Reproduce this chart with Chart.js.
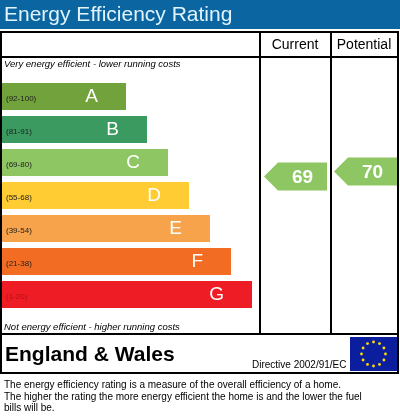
<!DOCTYPE html>
<html>
<head>
<meta charset="utf-8">
<script src="https://cdn.jsdelivr.net/npm/chart.js@4"></script>
<style>
  html, body { margin: 0; padding: 0; background: #fff; }
  #wrap { width: 400px; height: 419px; position: relative; }
</style>
</head>
<body>
<div id="wrap"><canvas id="epc" width="400" height="419"></canvas></div>
<script>
const bands = ['A', 'B', 'C', 'D', 'E', 'F', 'G'];
const ranges = ['(92-100)', '(81-91)', '(69-80)', '(55-68)', '(39-54)', '(21-38)', '(1-20)'];
const barEnds = [126, 147, 168, 189, 210, 231, 252];
const bandColors = ['#72a23c', '#3a9a5f', '#8dc663', '#ffcc33', '#f7a34b', '#f26d23', '#ee1c25'];
const currentRating = 69;
const potentialRating = 70;
const currentBand = 'C';
const potentialBand = 'C';

const font = '"Liberation Sans", Arial, sans-serif';

const epcPlugin = {
  id: 'epcFrame',
  beforeDraw(chart) {
    const c = chart.ctx;
    c.save();
    c.fillStyle = '#fff';
    c.fillRect(0, 0, 400, 419);
    // title band
    c.fillStyle = '#0b65a0';
    c.fillRect(0, 0, 400, 29);
    c.fillStyle = '#dff4ff';
    c.font = '21px ' + font;
    c.textBaseline = 'middle';
    c.fillText('Energy Efficiency Rating', 4, 15);
    // frame
    c.strokeStyle = '#000';
    c.lineWidth = 2;
    c.strokeRect(1, 32, 397, 302);
    c.beginPath();
    c.moveTo(1, 57); c.lineTo(398, 57);
    c.moveTo(260, 32); c.lineTo(260, 334);
    c.moveTo(331, 32); c.lineTo(331, 334);
    c.stroke();
    c.strokeRect(1, 334, 397, 39);
    c.fillStyle = '#000';
    c.font = '14px ' + font;
    c.textAlign = 'center';
    c.fillText('Current', 295, 45);
    c.fillText('Potential', 364, 45);
    c.textAlign = 'left';
    c.font = 'italic 9.5px ' + font;
    c.fillText('Very energy efficient - lower running costs', 4, 64);
    c.fillText('Not energy efficient - higher running costs', 4, 327);
    c.font = 'bold 21px ' + font;
    c.fillText('England & Wales', 5, 355);
    c.font = '10px ' + font;
    c.fillText('Directive 2002/91/EC', 252, 365);
    c.font = '10px ' + font;
    c.fillText('The energy efficiency rating is a measure of the overall efficiency of a home.', 4, 385);
    c.fillText('The higher the rating the more energy efficient the home is and the lower the fuel', 4, 397);
    c.fillText('bills will be.', 4, 408);
    // EU flag
    c.fillStyle = '#0b1f9e';
    c.fillRect(350, 337, 47, 34);
    c.fillStyle = '#ffdd00';
    for (let i = 0; i < 12; i++) {
      const a = i * Math.PI / 6;
      c.beginPath();
      c.arc(373.5 + 12 * Math.cos(a), 354 + 12 * Math.sin(a), 1.4, 0, 2 * Math.PI);
      c.fill();
    }
    c.restore();
  },
  afterDatasetsDraw(chart) {
    const c = chart.ctx;
    const y = chart.scales.y;
    c.save();
    c.textBaseline = 'middle';
    bands.forEach((b, i) => {
      const py = y.getPixelForValue(i);
      c.fillStyle = i === 6 ? '#b01018' : '#222';
      c.font = '8px ' + font;
      c.textAlign = 'left';
      c.fillText(ranges[i], 6, py + 2);
      c.fillStyle = '#fff';
      c.font = '19px ' + font;
      c.textAlign = 'right';
      c.fillText(b, barEnds[i] - 28, py);
    });
    const arrow = (x0, x1, cy, color, label) => {
      const h = 28;
      c.fillStyle = color;
      c.beginPath();
      c.moveTo(x0, cy);
      c.lineTo(x0 + 14, cy - h / 2);
      c.lineTo(x1, cy - h / 2);
      c.lineTo(x1, cy + h / 2);
      c.lineTo(x0 + 14, cy + h / 2);
      c.closePath();
      c.fill();
      c.fillStyle = '#fff';
      c.font = 'bold 19px ' + font;
      c.textAlign = 'center';
      c.fillText(label, (x0 + x1) / 2 + 7, cy + 1);
    };
    const ci = bands.indexOf(currentBand), pi = bands.indexOf(potentialBand);
    arrow(264, 327, y.getPixelForValue(ci) + 14, bandColors[ci], String(currentRating));
    arrow(334, 397, y.getPixelForValue(pi) + 9, bandColors[pi], String(potentialRating));
    c.restore();
  }
};

new Chart(document.getElementById('epc'), {
  type: 'bar',
  data: {
    labels: bands,
    datasets: [{
      data: barEnds.map(e => [2, e]),
      backgroundColor: bandColors,
      borderWidth: 0,
      categoryPercentage: 1,
      barPercentage: 27 / 33
    }]
  },
  options: {
    indexAxis: 'y',
    responsive: false,
    animation: false,
    layout: { padding: { top: 80, bottom: 108, left: 0, right: 0 } },
    plugins: { legend: { display: false }, tooltip: { enabled: false } },
    scales: {
      x: { display: false, min: 0, max: 400 },
      y: { display: false }
    }
  },
  plugins: [epcPlugin]
});
</script>
</body>
</html>
